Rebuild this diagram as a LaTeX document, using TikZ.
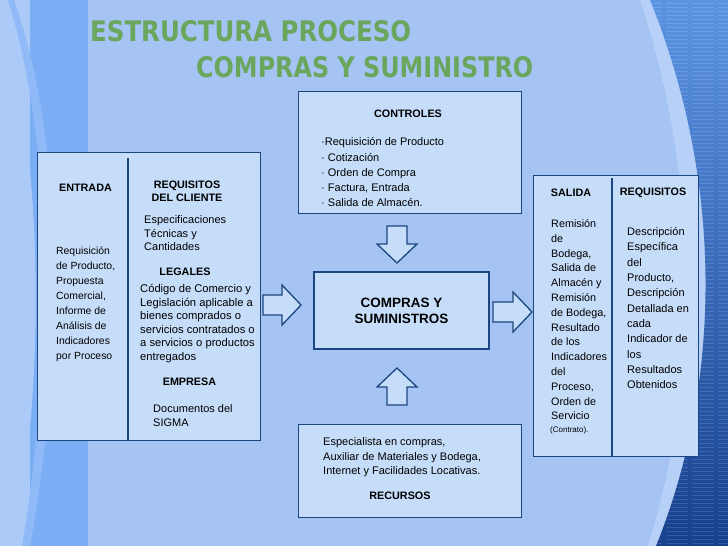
\documentclass[tikz,border=0pt]{standalone}
\usepackage{fontspec}
\usepackage{graphicx}
\setmainfont{Liberation Sans}
\newfontfamily\titlefont{DejaVu Sans Condensed}
\definecolor{bg}{RGB}{165,195,243}
\definecolor{bandblue}{RGB}{124,174,246}
\definecolor{leftlight}{RGB}{172,202,247}
\definecolor{boxfill}{RGB}{198,221,250}
\definecolor{boxline}{RGB}{28,70,130}
\definecolor{titlegreen}{RGB}{106,166,92}
\definecolor{darktop}{RGB}{92,148,228}
\definecolor{darkbot}{RGB}{22,64,142}
\definecolor{crescent}{RGB}{182,208,248}
\tikzset{
  box/.style={draw=boxline, fill=boxfill, line width=1.3pt, inner sep=0pt},
  blockarrow/.style={draw=boxline, fill=boxfill, line width=1.3pt, line join=miter},
  divider/.style={draw=boxline, line width=1.3pt},
  hd/.style={font=\fontsize{10.8}{13}\selectfont\bfseries, inner sep=0pt},
  txt/.style={inner sep=0pt, anchor=north west, align=left},
  ttl/.style={inner sep=0pt, anchor=south west, text=titlegreen, font=\titlefont\bfseries}
}
\begin{document}
\begin{tikzpicture}[x=1pt,y=-1pt]
\useasboundingbox (0,0) rectangle (728,546);
% background
\fill[bg] (0,0) rectangle (728,546);
\fill[leftlight] (0,0) rectangle (30,546);
\fill[bandblue] (30,0) rectangle (88,546);
\fill[leftlight] (0,0) .. controls (45,160) and (45,380) .. (14,546) -- (0,546) -- cycle;
\fill[bandblue!85!white] (14,0) .. controls (70,160) and (60,380) .. (30,546) -- (22,546) .. controls (50,380) and (58,160) .. (8,0) -- cycle;
% right dark area
\fill[crescent] (640,0) .. controls (700,180) and (700,380) .. (648,546) -- (728,546) -- (728,0) -- cycle;
\begin{scope}
\clip (650,0) .. controls (723,180) and (723,380) .. (656,546) -- (728,546) -- (728,0) -- cycle;
\shade[top color=darktop, bottom color=darkbot] (640,0) rectangle (728,546);
\foreach \yy in {3,7,...,546} {
  \draw[white, opacity=0.13, line width=0.8pt, dash pattern=on 22pt off 4pt] (640,\yy) -- (728,\yy);
}
\end{scope}
% title
\node[ttl] (t1) at (90,42) {\resizebox{321pt}{21pt}{ESTRUCTURA PROCESO}};
\node[ttl] (t2) at (196,78) {\resizebox{337pt}{21pt}{COMPRAS Y SUMINISTRO}};
% left box
\node[box, anchor=north west, minimum width=223pt, minimum height=288pt] (left) at (37,152) {};
\draw[divider] (128,158) -- (128,440);
\node[hd] (entrada) at (85.5,187.5) {ENTRADA};
\node[hd, align=center, font=\fontsize{10.8}{13}\selectfont\bfseries] (reqcli) at (187,191) {REQUISITOS\\DEL CLIENTE};
\node[txt, font=\fontsize{10.4}{15.1}\selectfont] (entradatxt) at (56,243.4) {\strut Requisición\\de Producto,\\Propuesta\\Comercial,\\Informe de\\Análisis de\\Indicadores\\por Proceso};
\node[txt, font=\fontsize{11}{13.5}\selectfont] (espec) at (144,214.2) {\strut Especificaciones\\Técnicas y\\Cantidades};
\node[hd] (legales) at (185,272) {LEGALES};
\node[txt, font=\fontsize{11.2}{13.5}\selectfont] (codigo) at (140,283.2) {\strut Código de Comercio y\\Legislación aplicable a\\bienes comprados o\\servicios contratados o\\a servicios o productos\\entregados};
\node[hd] (empresa) at (189.5,381.5) {EMPRESA};
\node[txt, font=\fontsize{11}{13.5}\selectfont] (docs) at (153,403.2) {\strut Documentos del\\SIGMA};
% controles box
\node[box, anchor=north west, minimum width=223pt, minimum height=122pt] (controles) at (298,91) {};
\node[hd] (controlesh) at (408,114) {CONTROLES};
\node[txt, font=\fontsize{11}{15.2}\selectfont] (controlestxt) at (321,135) {\strut ·Requisición de Producto\\· Cotización\\· Orden de Compra\\· Factura, Entrada\\· Salida de Almacén.};
% center box
\node[box, minimum width=175pt, minimum height=77pt, align=center, font=\fontsize{13.5}{16}\selectfont\bfseries] (centro) at (401.5,310.5) {COMPRAS Y\\SUMINISTROS};
% recursos box
\node[box, anchor=north west, minimum width=223pt, minimum height=93pt] (recursos) at (298,424) {};
\node[txt, font=\fontsize{11}{14.7}\selectfont] (recursostxt) at (323,435) {\strut Especialista en compras,\\Auxiliar de Materiales y Bodega,\\Internet y Facilidades Locativas.};
\node[hd] (recursosh) at (400,496) {RECURSOS};
% right box
\node[box, anchor=north west, minimum width=165pt, minimum height=281pt] (right) at (533,175) {};
\draw[divider] (612,178) -- (612,456);
\node[hd] (salida) at (571,193) {SALIDA};
\node[hd] (requisitos) at (653,193) {REQUISITOS};
\node[txt, font=\fontsize{10.8}{14.8}\selectfont] (salidatxt) at (551,216.9) {\strut Remisión\\de\\Bodega,\\Salida de\\Almacén y\\Remisión\\de Bodega,\\Resultado\\de los\\Indicadores\\del\\Proceso,\\Orden de\\Servicio};
\node[txt, font=\fontsize{8}{10}\selectfont] (contrato) at (550,426.5) {(Contrato).};
\node[txt, font=\fontsize{11}{15.33}\selectfont] (reqtxt) at (627,224.6) {\strut Descripción\\Específica\\del\\Producto,\\Descripción\\Detallada en\\cada\\Indicador de\\los\\Resultados\\Obtenidos};
% block arrows
\draw[blockarrow] (387,226) -- (407,226) -- (407,244) -- (417,244) -- (397,263) -- (377,244) -- (387,244) -- cycle;
\draw[blockarrow] (387,405) -- (407,405) -- (407,387) -- (417,387) -- (397,368) -- (377,387) -- (387,387) -- cycle;
\draw[blockarrow] (263,295) -- (282,295) -- (282,285) -- (301,305) -- (282,325) -- (282,315) -- (263,315) -- cycle;
\draw[blockarrow] (493,302) -- (513,302) -- (513,292) -- (532,312) -- (513,332) -- (513,322) -- (493,322) -- cycle;
\end{tikzpicture}
\end{document}
